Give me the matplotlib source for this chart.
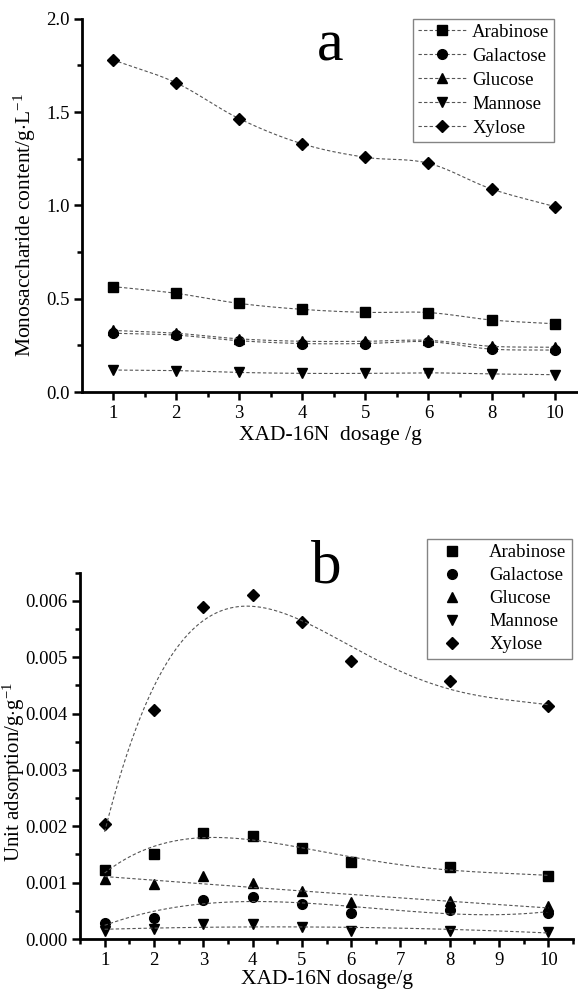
import numpy as np
import matplotlib
matplotlib.use("Agg")
import matplotlib.pyplot as plt
from matplotlib.ticker import MultipleLocator, FixedLocator, FormatStrFormatter

plt.rcParams['font.family'] = ['Liberation Serif', 'DejaVu Serif']
plt.rcParams['mathtext.fontset'] = 'custom'
plt.rcParams['mathtext.rm'] = 'Liberation Serif'
plt.rcParams['mathtext.it'] = 'Liberation Serif:italic'

# ---------------- data ----------------
dosage_labels = ['1', '2', '3', '4', '5', '6', '8', '10']
dosage = [1, 2, 3, 4, 5, 6, 8, 10]
sugars = ['Arabinose', 'Galactose', 'Glucose', 'Mannose', 'Xylose']
markers = ['s', 'o', '^', 'v', 'D']

# panel a: monosaccharide content (g/L)
a_arabinose = [0.565, 0.529, 0.475, 0.443, 0.427, 0.426, 0.386, 0.366]
a_galactose = [0.315, 0.305, 0.275, 0.260, 0.260, 0.270, 0.230, 0.225]
a_glucose = [0.330, 0.315, 0.285, 0.272, 0.272, 0.277, 0.245, 0.240]
a_mannose = [0.118, 0.115, 0.105, 0.100, 0.100, 0.103, 0.097, 0.093]
a_xylose = [1.780, 1.657, 1.465, 1.330, 1.258, 1.226, 1.088, 0.994]

# panel b: unit adsorption (g/g)
b_arabinose = [0.00122, 0.00150, 0.00189, 0.00182, 0.00161, 0.00137, 0.00127, 0.00112]
b_galactose = [0.00028, 0.00037, 0.00070, 0.00075, 0.00063, 0.00046, 0.00052, 0.00047]
b_glucose = [0.00107, 0.00098, 0.00111, 0.00100, 0.00085, 0.00065, 0.00067, 0.00058]
b_mannose = [0.00015, 0.00017, 0.00026, 0.00027, 0.00021, 0.00015, 0.00015, 0.00013]
b_xylose = [0.00204, 0.00407, 0.00590, 0.00610, 0.00562, 0.00494, 0.00457, 0.00413]

a_series = [a_arabinose, a_galactose, a_glucose, a_mannose, a_xylose]
b_series = [b_arabinose, b_galactose, b_glucose, b_mannose, b_xylose]
# trend-line fit settings: polynomial degree and x transform
fit_degree = [4, 3, 2, 2, 4]
fit_transform = ['lin', 'lin', 'lin', 'lin', 'lin']
transforms = {'lin': lambda v: np.asarray(v, float),
              'log': lambda v: np.log(np.asarray(v, float))}


def smooth_path(x, y, n=20):
    """Catmull-Rom spline through the points, for a smooth connecting line."""
    x = np.asarray(x, float)
    y = np.asarray(y, float)
    px = np.concatenate([[2 * x[0] - x[1]], x, [2 * x[-1] - x[-2]]])
    py = np.concatenate([[2 * y[0] - y[1]], y, [2 * y[-1] - y[-2]]])
    t = np.linspace(0, 1, n, endpoint=False)
    ox, oy = [], []
    for i in range(1, len(px) - 2):
        for P, out in ((px, ox), (py, oy)):
            p0, p1, p2, p3 = P[i - 1], P[i], P[i + 1], P[i + 2]
            out.extend(0.5 * (2 * p1 + (-p0 + p2) * t + (2 * p0 - 5 * p1 + 4 * p2 - p3) * t ** 2
                              + (-p0 + 3 * p1 - 3 * p2 + p3) * t ** 3))
    ox.append(x[-1])
    oy.append(y[-1])
    return np.array(ox), np.array(oy)


# ---------------- figure ----------------
fig = plt.figure(figsize=(5.78, 9.90), dpi=100)
ax1 = fig.add_axes([0.142, 0.604, 0.858, 0.377])
ax2 = fig.add_axes([0.1384, 0.0515, 0.8530, 0.370])

line_kw = dict(color='#555555', lw=0.8, ls=(0, (3, 2)))
tick_fs = 13.5
lab_fs = 15.5
leg_fs = 13.5


def style(ax):
    for s in ['top', 'right']:
        ax.spines[s].set_visible(False)
    for s in ['left', 'bottom']:
        ax.spines[s].set_linewidth(2.0)
    ax.tick_params(which='major', direction='out', length=6, width=1.8, labelsize=tick_fs, pad=3)
    ax.tick_params(which='minor', direction='out', length=3.5, width=1.8)


# panel a
xi = np.arange(len(dosage_labels))
for name, m, ys in zip(sugars, markers, a_series):
    sx, sy = smooth_path(xi, ys)
    ax1.plot(sx, sy, **line_kw)
    ax1.plot(xi, ys, marker=m, ms=7 if m != 'D' else 6.5, ls='none',
             mfc='black', mec='black')
    ax1.plot([], [], marker=m, ms=7 if m != 'D' else 6.5,
             mfc='black', mec='black', label=name, **line_kw)
ax1.set_xlim(-0.49, 7.37)
ax1.set_ylim(0, 2.0)
ax1.set_xticks(xi)
ax1.set_xticklabels(dosage_labels)
ax1.xaxis.set_minor_locator(FixedLocator(np.arange(0.5, 7.5, 1.0)))
ax1.yaxis.set_major_locator(MultipleLocator(0.5))
ax1.yaxis.set_minor_locator(MultipleLocator(0.25))
ax1.yaxis.set_major_formatter(FormatStrFormatter('%.1f'))
style(ax1)
ax1.set_xlabel('XAD-16N  dosage /g', fontsize=lab_fs, labelpad=3)
ax1.set_ylabel('Monosaccharide content/g$\\cdot$L$^{-1}$', fontsize=lab_fs)
ax1.yaxis.set_label_coords(-0.088, 0.448)
ax1.text(0.50, 0.925, 'a', transform=ax1.transAxes, fontsize=43, ha='center', va='center')
leg1 = ax1.legend(loc='upper right', bbox_to_anchor=(0.952, 1.0), fontsize=leg_fs,
                  frameon=True, fancybox=False, edgecolor='#666666', handlelength=2.6,
                  handletextpad=0.3, borderpad=0.25, labelspacing=0.37, borderaxespad=0)
leg1.get_frame().set_linewidth(1.0)

# panel b
xf = np.linspace(1, 10, 200)
for name, m, ys, deg, tr in zip(sugars, markers, b_series, fit_degree, fit_transform):
    ax2.plot(dosage, ys, marker=m, ms=7 if m != 'D' else 6.5, color='black', ls='none', label=name)
    f = transforms[tr]
    coef = np.polyfit(f(dosage), ys, deg)
    ax2.plot(xf, np.polyval(coef, f(xf)), **line_kw)
ax2.set_xlim(0.5, 10.5)
ax2.set_ylim(0, 0.0065)
ax2.xaxis.set_major_locator(MultipleLocator(1))
ax2.xaxis.set_minor_locator(MultipleLocator(0.5))
ax2.yaxis.set_major_locator(MultipleLocator(0.001))
ax2.yaxis.set_minor_locator(MultipleLocator(0.0005))
ax2.yaxis.set_major_formatter(FormatStrFormatter('%.3f'))
style(ax2)
ax2.set_xlabel('XAD-16N dosage/g', fontsize=lab_fs, labelpad=1)
ax2.set_ylabel('Unit adsorption/g$\\cdot$g$^{-1}$', fontsize=15)
ax2.yaxis.set_label_coords(-0.108, 0.456)
ax2.text(0.50, 1.013, 'b', transform=ax2.transAxes, fontsize=44, ha='center', va='center')
leg2 = ax2.legend(loc='upper right', bbox_to_anchor=(0.998, 1.093), fontsize=leg_fs,
                  frameon=True, fancybox=False, edgecolor='#666666', handlelength=2.0,
                  handletextpad=1.0, borderpad=0.3, labelspacing=0.31, borderaxespad=0)
leg2.get_frame().set_linewidth(1.0)

fig.savefig('out.png', dpi=100)
